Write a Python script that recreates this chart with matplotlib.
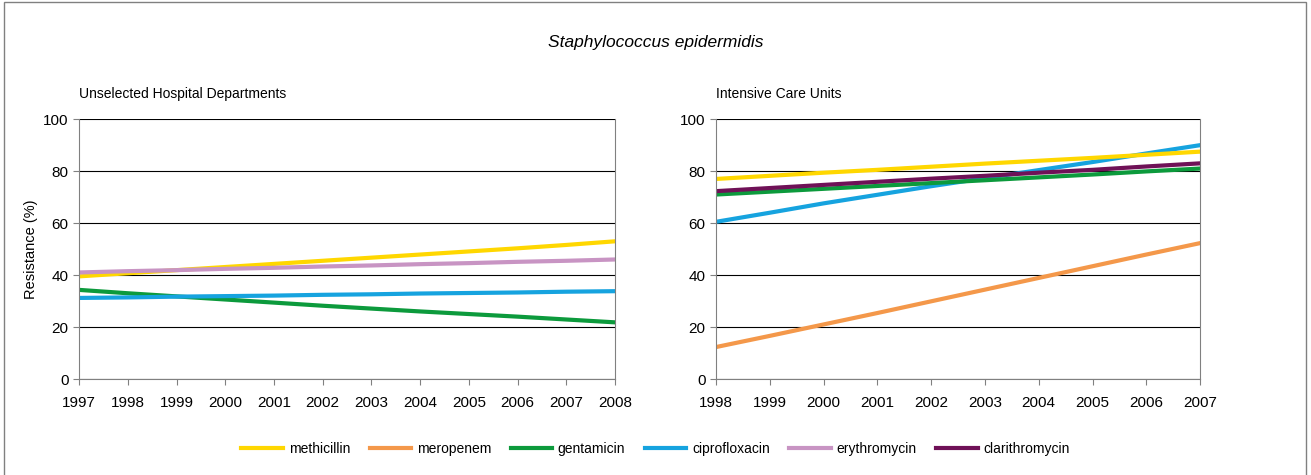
import matplotlib.pyplot as plt
from matplotlib.patches import Rectangle

plt.rcParams['font.family'] = ['Liberation Sans', 'DejaVu Sans']

# unselected hospital departments, 1997-2008
years_hosp = list(range(1997, 2009))
hosp_methicillin = [39.5, 40.7, 41.9, 43.1, 44.3, 45.5, 46.7, 47.9, 49.1, 50.3, 51.6, 53.0]
hosp_gentamicin = [34.3, 33.0, 31.8, 30.6, 29.4, 28.2, 27.1, 26.0, 25.0, 24.0, 22.9, 21.8]
hosp_ciprofloxacin = [31.2, 31.4, 31.7, 31.9, 32.1, 32.4, 32.6, 32.9, 33.1, 33.3, 33.6, 33.8]
hosp_erythromycin = [41.0, 41.5, 41.9, 42.4, 42.8, 43.3, 43.7, 44.2, 44.6, 45.1, 45.5, 46.0]

# intensive care units, 1998-2007
years_icu = list(range(1998, 2008))
icu_methicillin = [77.0, 78.2, 79.4, 80.5, 81.7, 82.9, 84.0, 85.1, 86.3, 87.5]
icu_meropenem = [12.3, 16.6, 21.0, 25.4, 29.9, 34.4, 38.9, 43.4, 47.9, 52.3]
icu_gentamicin = [71.0, 72.1, 73.2, 74.3, 75.4, 76.5, 77.6, 78.7, 79.9, 81.0]
icu_ciprofloxacin = [60.5, 64.0, 67.6, 70.9, 74.2, 77.3, 80.4, 83.5, 86.8, 90.0]
icu_clarithromycin = [72.3, 73.5, 74.7, 75.9, 77.1, 78.2, 79.4, 80.5, 81.8, 83.0]

colors = {'methicillin': '#ffd700', 'meropenem': '#f4984a', 'gentamicin': '#0c9a3c',
          'ciprofloxacin': '#16a3df', 'erythromycin': '#c894c3', 'clarithromycin': '#6f1157'}

fig = plt.figure(figsize=(13.11, 4.75), dpi=100)
fig.patches.append(Rectangle((0.003, -0.05), 0.993, 1.045, transform=fig.transFigure,
                             fill=False, edgecolor='#808080', lw=1))

fig.text(0.5, 0.911, 'Staphylococcus epidermidis', ha='center', va='center',
         fontsize=12.5, style='italic')

ax1 = fig.add_axes([0.0603, 0.2021, 0.4089, 0.547])
ax2 = fig.add_axes([0.5462, 0.2021, 0.3692, 0.547])

lw = 3
ax1.plot(years_hosp, hosp_methicillin, color=colors['methicillin'], lw=lw)
ax1.plot(years_hosp, hosp_erythromycin, color=colors['erythromycin'], lw=lw)
ax1.plot(years_hosp, hosp_gentamicin, color=colors['gentamicin'], lw=lw)
ax1.plot(years_hosp, hosp_ciprofloxacin, color=colors['ciprofloxacin'], lw=lw)

ax2.plot(years_icu, icu_meropenem, color=colors['meropenem'], lw=lw)
ax2.plot(years_icu, icu_ciprofloxacin, color=colors['ciprofloxacin'], lw=lw)
ax2.plot(years_icu, icu_gentamicin, color=colors['gentamicin'], lw=lw)
ax2.plot(years_icu, icu_clarithromycin, color=colors['clarithromycin'], lw=lw)
ax2.plot(years_icu, icu_methicillin, color=colors['methicillin'], lw=lw)

for ax, yrs, title in [(ax1, years_hosp, 'Unselected Hospital Departments'),
                       (ax2, years_icu, 'Intensive Care Units')]:
    ax.set_xlim(yrs[0], yrs[-1])
    ax.set_ylim(0, 100)
    ax.set_xticks(yrs)
    ax.set_yticks([0, 20, 40, 60, 80, 100])
    ax.tick_params(labelsize=11, color='#808080', length=4, direction='out')
    ax.tick_params(axis='x', pad=8)
    ax.grid(axis='y', color='black', lw=0.8)
    ax.set_axisbelow(True)
    for s in ax.spines.values():
        s.set_color('#808080')
    ax.spines['top'].set_visible(False)
    ax.set_title(title, loc='left', fontsize=10, pad=15)

ax1.set_ylabel('Resistance (%)', fontsize=10.5)

handles = [plt.Line2D([], [], color=colors[k], lw=lw) for k in colors]
fig.legend(handles, list(colors.keys()), loc='center', bbox_to_anchor=(0.5, 0.055),
           ncol=6, frameon=False, fontsize=10, handlelength=3.0, handletextpad=0.4,
           columnspacing=1.4)

fig.savefig('out.png', dpi=100)
